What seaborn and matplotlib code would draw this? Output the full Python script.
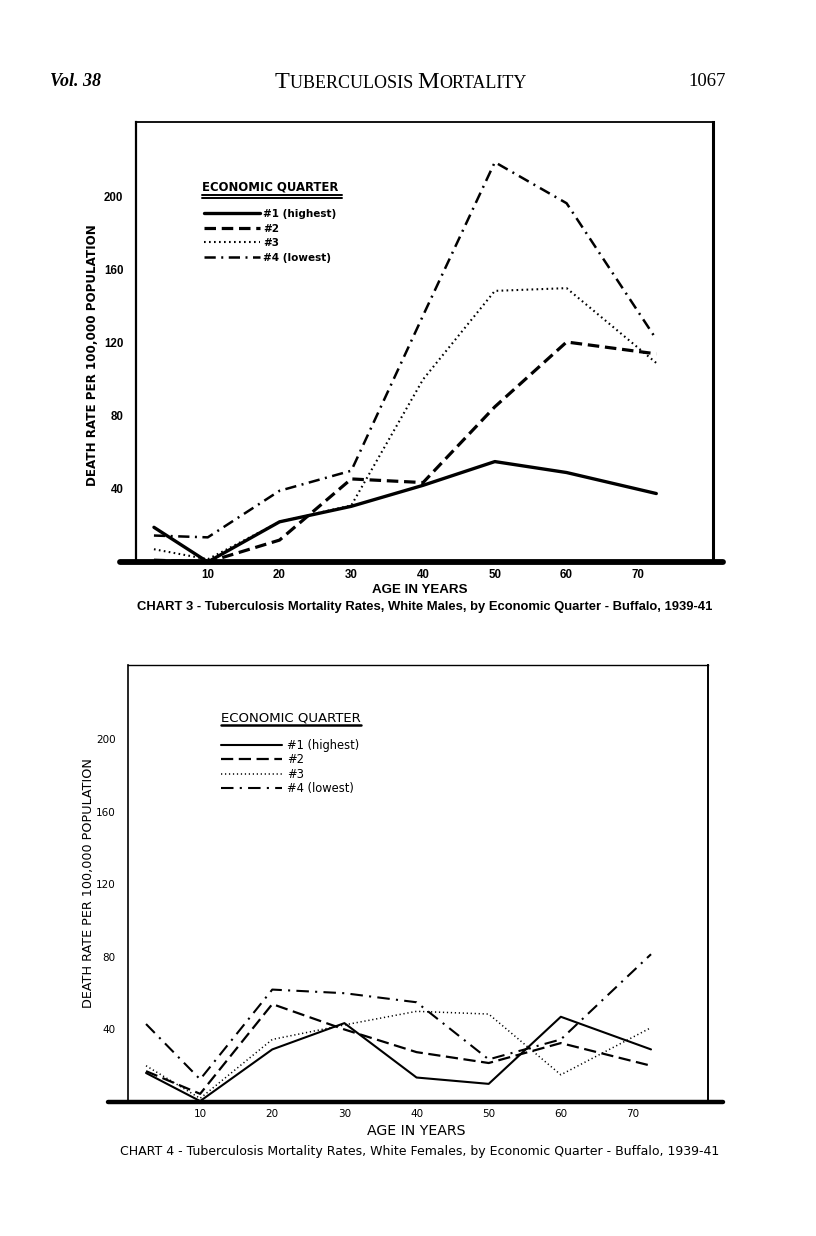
import matplotlib
matplotlib.use("Agg")
import matplotlib.pyplot as plt
import seaborn as sns
import pandas as pd

# ---------------- data ----------------
ages = [2.5, 10, 20, 30, 40, 50, 60, 72.5]
series_labels = ["#1 (highest)", "#2", "#3", "#4 (lowest)"]

# Chart 3 - white males
males_q1 = [19, 0, 22, 30.5, 42, 55, 49, 37.5]
males_q2 = [1, 0, 12, 45.5, 43.5, 85, 120.5, 114]
males_q3 = [7, 1.5, 22, 31, 100, 148.5, 150, 109]
males_q4 = [14.5, 13.5, 39, 50, 135, 219, 196.5, 122]

# Chart 4 - white females
females_q1 = [16, 0.5, 29, 43.5, 13.5, 10, 47, 29]
females_q2 = [17, 4.5, 54, 40, 27.5, 21.5, 32.5, 20]
females_q3 = [20, 2, 34.5, 42.5, 50, 48.5, 15, 41]
females_q4 = [43, 12.5, 62, 60, 55, 23.5, 34.5, 81.5]

x_ticks = [10, 20, 30, 40, 50, 60, 70]
y_ticks = [40, 80, 120, 160, 200]

header_left = "Vol. 38"
header_page = "1067"
header_pieces = [("T", 17.5), ("UBERCULOSIS ", 13), ("M", 17.5), ("ORTALITY", 13)]
caption3 = "CHART 3 - Tuberculosis Mortality Rates, White Males, by Economic Quarter - Buffalo, 1939-41"
caption4 = "CHART 4 - Tuberculosis Mortality Rates, White Females, by Economic Quarter - Buffalo, 1939-41"
ylabel = "DEATH RATE PER 100,000 POPULATION"
xlabel = "AGE IN YEARS"
legend_title = "ECONOMIC QUARTER"

# ---------------- style ----------------
sns.set_style("white")
plt.rcParams["font.family"] = ["DejaVu Sans"]
plt.rcParams["text.color"] = "black"
plt.rcParams["axes.labelcolor"] = "black"
plt.rcParams["xtick.color"] = "black"
plt.rcParams["ytick.color"] = "black"

fig = plt.figure(figsize=(8.16, 12.36), dpi=100)

def make_df(vals):
    return pd.DataFrame({"age": ages, "rate": vals})

def draw_chart(ax, series, bold, lws, styles, fam, fs):
    weight = "bold" if bold else "normal"
    handles = []
    for vals, lw, ls in zip(series, lws, styles):
        sns.lineplot(data=make_df(vals), x="age", y="rate", ax=ax, color="black",
                     lw=lw, linestyle=ls, estimator=None, sort=False)
        handles.append(ax.lines[-1])
    ax.set_xlim(0, 80.4)
    ax.set_ylim(0, 241)
    ax.set_xticks(x_ticks)
    ax.set_xticklabels([str(t) for t in x_ticks], fontsize=fs, fontweight=weight, family=fam)
    ax.set_yticks(y_ticks)
    ax.set_yticklabels([str(t) for t in y_ticks], fontsize=fs, fontweight=weight, family=fam)
    ax.tick_params(axis="x", direction="in", length=7, width=1.5, pad=5)
    ax.tick_params(axis="y", direction="out", length=7, width=1.5, pad=2)
    ax.set_xlabel("")
    ax.set_ylabel("")
    ax.spines["bottom"].set_visible(False)
    for s in ["left", "top", "right"]:
        ax.spines[s].set_color("black")
    return handles

# ---------------- Chart 3 ----------------
ax3 = fig.add_axes([136/816, 1 - 562/1236, 577/816, 440/1236])
h3 = draw_chart(ax3, [males_q1, males_q2, males_q3, males_q4], True,
                [2.4, 2.3, 1.5, 1.8],
                ["-", (0, (3.6, 1.8)), (0, (0.8, 1.6)), (0, (4.5, 2.2, 0.8, 2.2))],
                "Liberation Sans", 8.3)
ax3.spines["left"].set_linewidth(1.6)
ax3.spines["top"].set_linewidth(1.3)
ax3.spines["right"].set_linewidth(2.2)
ax3.axhline(0, xmin=-0.027, xmax=1.017, color="black", lw=4.2, clip_on=False, zorder=5)
ax3.text(-0.076, 0.47, ylabel, transform=ax3.transAxes, rotation=90, ha="center", va="center",
         fontsize=8.6, fontweight="bold", family="DejaVu Sans")
ax3.text(0.492, -0.063, xlabel, transform=ax3.transAxes, ha="center", va="center",
         fontsize=9.6, fontweight="bold", family="Liberation Sans")
ax3.text(0.114, 0.852, legend_title, transform=ax3.transAxes, ha="left", va="center",
         fontsize=8.4, fontweight="bold", family="DejaVu Sans")
ax3.plot([0.114, 0.357], [0.8341, 0.8341], transform=ax3.transAxes, color="black", lw=1.4)
ax3.plot([0.114, 0.357], [0.8273, 0.8273], transform=ax3.transAxes, color="black", lw=1.4)
ax3.legend(h3, series_labels, loc="upper left", bbox_to_anchor=(0.118, 0.802),
           frameon=False, borderpad=0, borderaxespad=0, handlelength=5.4, handletextpad=0.3,
           labelspacing=0.43, prop={"family": "DejaVu Sans", "weight": "bold", "size": 7.5})

# ---------------- Chart 4 ----------------
ax4 = fig.add_axes([128/816, 1 - 1102/1236, 580/816, 437/1236])
h4 = draw_chart(ax4, [females_q1, females_q2, females_q3, females_q4], False,
                [1.5, 1.6, 1.1, 1.5],
                ["-", (0, (5.5, 2.5)), (0, (0.8, 1.8)), (0, (6, 3, 1, 3))],
                "DejaVu Sans", 7.5)
ax4.spines["left"].set_linewidth(1.2)
ax4.spines["top"].set_linewidth(1.0)
ax4.spines["right"].set_linewidth(1.4)
ax4.axhline(0, xmin=-0.034, xmax=1.026, color="black", lw=3.2, clip_on=False, zorder=5)
ax4.text(-0.068, 0.5, ylabel, transform=ax4.transAxes, rotation=90, ha="center", va="center",
         fontsize=9.2, family="DejaVu Sans")
ax4.text(0.497, -0.066, xlabel, transform=ax4.transAxes, ha="center", va="center",
         fontsize=10.2, family="DejaVu Sans")
ax4.text(0.1603, 0.8787, legend_title, transform=ax4.transAxes, ha="left", va="center",
         fontsize=9.5, family="DejaVu Sans")
ax4.plot([0.1603, 0.401], [0.8627, 0.8627], transform=ax4.transAxes, color="black", lw=1.8)
ax4.legend(h4, series_labels, loc="upper left", bbox_to_anchor=(0.160, 0.831),
           frameon=False, borderpad=0, borderaxespad=0, handlelength=5.3, handletextpad=0.45,
           labelspacing=0.12, prop={"family": "DejaVu Sans", "size": 8.3})

# ---------------- page text ----------------
fig.text(424.5/816, 1 - 607/1236, caption3, ha="center", va="center", fontsize=9.4,
         fontweight="bold", family="Liberation Sans")
fig.text(420/816, 1 - 1152/1236, caption4, ha="center", va="center", fontsize=9.0,
         family="DejaVu Sans")

fig.text(50/816, 1 - 81/1236, header_left, ha="left", va="center", fontsize=13,
         fontweight="bold", style="italic", family="Liberation Serif")
fig.text(726/816, 1 - 81/1236, header_page, ha="right", va="center", fontsize=13.5,
         family="Liberation Serif")

# small-caps running head built from chained text pieces
fig.canvas.draw()
renderer = fig.canvas.get_renderer()
x_px = 275.0
base_y = 1 - 88/1236
for txt, sz in header_pieces:
    t = fig.text(x_px/816, base_y, txt, ha="left", va="baseline", fontsize=sz,
                 family="Liberation Serif")
    bb = t.get_window_extent(renderer=renderer)
    x_px = bb.x1

fig.savefig("out.png", dpi=100)
